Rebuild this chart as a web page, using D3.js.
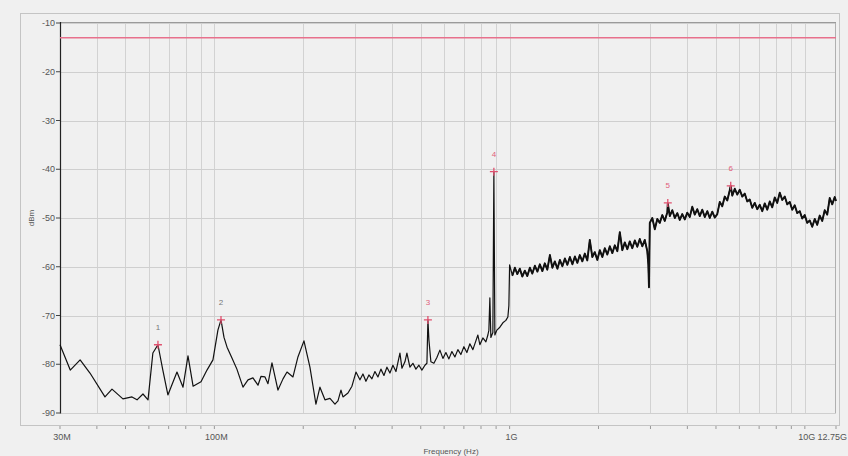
<!DOCTYPE html>
<html>
<head>
<meta charset="utf-8">
<script src="https://cdn.jsdelivr.net/npm/d3@7/dist/d3.min.js"></script>
<style>
	html, body { margin: 0; padding: 0; background: #f0f0f0; }
	svg { display: block; font-family: "Liberation Sans", "DejaVu Sans", sans-serif; }
</style>
</head>
<body>
<div id="chart"></div>
<script>
// frequency in MHz, level in dBm
const traceFreq = [
	30, 32.5, 35.1, 37.9, 42.6, 45.0, 49.0, 52.6, 54.7, 57.3, 59.6, 61.9, 64.4, 66.9, 69.6, 74.7, 78.3, 81.4, 84.7, 90.1, 94.4, 98.9, 102.8, 105.3,
	107.8, 110.4, 114.7, 119.2, 125.0, 130.0, 135.1, 140.5, 143.8, 148.4, 151.9, 156.7, 164.2, 170.8, 176.2, 184.6, 191.9, 201.1, 210.7, 220.8,
	227.8, 236.9, 246.3, 256.1, 262.2, 268.4, 272.6, 283.5, 292.4, 301.7, 311.2, 318.6, 326.1, 333.8, 341.7, 349.8, 358.1, 366.5, 375.3, 384.1,
	393.2, 402.5, 412.1, 425.1, 431.8, 442.0, 448.9, 459.5, 470.4, 481.5, 493.0, 504.6, 516.6, 524.7, 528.8, 532.9, 541.2, 554.1,
	567.1, 580.6, 594.4, 608.4, 622.8, 637.5, 652.6, 668.0, 683.8, 700.1, 716.6, 733.5, 750.9, 768.7, 780.7, 793.0, 811.8, 831.1, 844.1, 850.7,
	857.3, 864.0, 877.6, 884.5, 891.4, 905.4, 926.8, 948.8, 971.3, 986.5, 994.2, 1000,
	1022, 1042, 1062, 1083, 1104, 1126, 1148, 1171, 1194, 1218, 1242, 1266, 1291, 1316, 1342, 1369, 1396, 1423, 1452,
	1480, 1509, 1539, 1569, 1600, 1632, 1664, 1696, 1729, 1763, 1798, 1833, 1869, 1906, 1943, 1982,
	2021, 2061, 2101, 2143, 2185, 2228, 2272, 2317, 2362, 2408, 2456, 2504, 2553, 2603, 2655, 2707,
	2760, 2814, 2870, 2926, 2950, 2965, 2984, 3043, 3103, 3164, 3226, 3290, 3354, 3421, 3434,
	3488, 3557, 3627, 3698, 3770, 3844, 3920, 3997, 4076, 4156, 4238, 4322, 4407, 4494, 4582, 4673,
	4764, 4858, 4954, 5051, 5150, 5251, 5355, 5461, 5568, 5610, 5678, 5790, 5904, 6019, 6138, 6259, 6382,
	6507, 6635, 6766, 6899, 7035, 7174, 7315, 7459, 7605, 7755, 7908, 8064, 8222, 8384, 8549, 8718,
	8888, 9063, 9242, 9424, 9609, 9798, 9991, 10188, 10388, 10593, 10802, 11014, 11230, 11451, 11677, 11907,
	12141, 12380, 12624, 12750
];
const traceLevel = [
	-76.0, -81.2, -79.1, -81.8, -86.7, -85.1, -87.1, -86.7, -87.3, -86.1, -87.3, -77.7, -76.0, -81.2, -86.3, -81.6, -84.7, -78.3, -84.5, -83.6, -81.2, -79.1, -73.0, -70.9,
	-74.5, -76.5, -78.7, -81.0, -84.7, -83.2, -82.8, -84.3, -82.5, -82.6, -84.0, -79.7, -85.3, -83.0, -81.6, -82.6, -78.5, -75.2, -80.6, -88.2,
	-84.7, -87.3, -87.0, -88.2, -87.5, -85.3, -86.7, -85.9, -84.5, -81.6, -83.2, -82.0, -83.5, -82.2, -83.0, -81.5, -82.6, -81.0, -82.3, -80.6,
	-81.8, -80.2, -81.5, -77.7, -80.8, -79.5, -77.7, -80.6, -79.8, -81.0, -80.2, -81.2, -80.2, -79.8, -70.9, -75.0, -79.5, -79.8,
	-78.6, -77.1, -78.8, -77.6, -78.9, -77.4, -78.5, -77.0, -78.0, -76.4, -77.6, -75.8, -77.0, -75.2, -74.0, -76.0, -74.6, -75.4, -74.0, -73.0,
	-66.4, -74.5, -73.5, -40.5, -74.0, -73.0, -72.4, -71.5, -71.0, -70.3, -68.0, -59.6,
	-61.8, -60.2, -61.5, -60.4, -62.0, -60.8, -61.9, -60.2, -61.4, -59.8, -61.0, -59.5, -60.9, -59.3, -60.6, -57.6, -60.2, -58.9, -60.4,
	-58.6, -59.9, -58.3, -59.6, -58.0, -59.5, -57.9, -59.2, -57.6, -58.9, -57.3, -58.7, -54.5, -58.0, -57.0, -58.6,
	-56.6, -58.0, -56.2, -57.5, -55.8, -57.2, -55.6, -56.8, -52.9, -56.6, -55.0, -56.4, -54.8, -56.2, -54.6, -55.9,
	-54.3, -55.8, -54.5, -56.8, -59.5, -64.2, -51.0, -50.0, -52.3, -50.2, -51.0, -49.4, -50.6, -48.8, -47.0,
	-49.6, -48.4, -50.0, -49.0, -50.4, -49.2, -50.3, -48.9, -49.8, -47.7, -49.3, -48.2, -49.6, -48.3, -49.8, -48.6,
	-50.0, -48.7, -49.9, -49.2, -46.7, -47.6, -45.6, -46.4, -44.3, -43.4, -45.4, -44.0, -45.2, -44.2, -45.6, -45.0, -46.6,
	-46.2, -47.9, -46.9, -48.2, -47.3, -48.6, -47.0, -48.3, -46.6, -47.8, -45.8, -46.9, -44.8, -46.3, -45.6, -47.2,
	-46.7, -48.3, -47.4, -49.0, -48.6, -50.1, -49.4, -51.0, -50.5, -51.8, -50.2, -51.4, -49.5, -50.6, -48.4, -49.3,
	-45.9, -47.2, -45.7, -46.5
];

const markerIds = ["1", "2", "3", "4", "5", "6"];
const markerFreq = [64.4, 105.3, 528.8, 884.5, 3434, 5610];
const markerLevel = [-76.0, -70.9, -70.9, -40.5, -46.9, -43.4];

const limitLevel = -13;

const yTicks = [-90, -80, -70, -60, -50, -40, -30, -20, -10];
const xLabelFreq = [30, 100, 1000, 10000, 12750];
const xLabelText = ["30M", "100M", "1G", "10G", "12.75G"];
const xMinorFreq = [
	40, 50, 60, 70, 80, 90,
	200, 300, 400, 500, 600, 700, 800, 900,
	2000, 3000, 4000, 5000, 6000, 7000, 8000, 9000
];

const width = 848;
const height = 456;
const margin = { left: 60, right: 12, top: 23, bottom: 43 };

const x = d3.scaleLog()
	.domain([30, 12750])
	.range([margin.left, width - margin.right]);

const y = d3.scaleLinear()
	.domain([-90, -10])
	.range([height - margin.bottom, margin.top]);

const svg = d3.select("#chart")
	.append("svg")
	.attr("width", width)
	.attr("height", height);

svg.append("rect")
	.attr("width", width)
	.attr("height", height)
	.attr("fill", "#f0f0f0");

// outer panel frame
svg.append("rect")
	.attr("x", 20.5)
	.attr("y", 13.5)
	.attr("width", 819)
	.attr("height", 412)
	.attr("fill", "none")
	.attr("stroke", "#c4c4c4");

// grid
svg.append("g")
	.selectAll("line")
	.data(xMinorFreq.concat([100, 1000, 10000]))
	.join("line")
	.attr("x1", (d) => Math.round(x(d)) + 0.5)
	.attr("x2", (d) => Math.round(x(d)) + 0.5)
	.attr("y1", y(-10))
	.attr("y2", y(-90))
	.attr("stroke", "#d2d2d2")
	.attr("stroke-width", 1);

svg.append("g")
	.selectAll("line")
	.data(yTicks)
	.join("line")
	.attr("x1", x(30))
	.attr("x2", x(12750))
	.attr("y1", (d) => Math.round(y(d)) + 0.5)
	.attr("y2", (d) => Math.round(y(d)) + 0.5)
	.attr("stroke", "#cfcfcf")
	.attr("stroke-width", 1.2);

// plot border
svg.append("line")
	.attr("x1", x(30)).attr("x2", x(12750))
	.attr("y1", y(-10) - 0.5).attr("y2", y(-10) - 0.5)
	.attr("stroke", "#9a9a9a");
svg.append("line")
	.attr("x1", x(12750) - 0.5).attr("x2", x(12750) - 0.5)
	.attr("y1", y(-10)).attr("y2", y(-90))
	.attr("stroke", "#b0b0b0");
svg.append("line")
	.attr("x1", x(30) + 0.5).attr("x2", x(30) + 0.5)
	.attr("y1", y(-10) - 1).attr("y2", y(-90) + 0.5)
	.attr("stroke", "#222")
	.attr("stroke-width", 1.2);

// y axis ticks + labels
const yAxis = svg.append("g");
yAxis.selectAll("line")
	.data(yTicks)
	.join("line")
	.attr("x1", x(30) - 4)
	.attr("x2", x(30))
	.attr("y1", (d) => y(d))
	.attr("y2", (d) => y(d))
	.attr("stroke", "#444");
yAxis.selectAll("text")
	.data(yTicks)
	.join("text")
	.attr("x", x(30) - 5)
	.attr("y", (d) => y(d))
	.attr("dy", "0.35em")
	.attr("text-anchor", "end")
	.attr("font-size", "9px")
	.attr("fill", "#555")
	.text((d) => d);

svg.append("text")
	.attr("transform", "translate(31," + y(-50) + ") rotate(-90)")
	.attr("text-anchor", "middle")
	.attr("dy", "0.35em")
	.attr("font-size", "8px")
	.attr("fill", "#555")
	.text("dBm");

// x axis ticks + labels (below the panel)
const xAxis = svg.append("g");
xAxis.selectAll("line")
	.data(xMinorFreq.concat(xLabelFreq))
	.join("line")
	.attr("x1", (d) => x(d))
	.attr("x2", (d) => x(d))
	.attr("y1", 426)
	.attr("y2", 429)
	.attr("stroke", "#999");
xAxis.selectAll("text")
	.data(xLabelFreq)
	.join("text")
	.attr("x", (d, i) => (i === xLabelFreq.length - 1 ? width - 1 : x(d) + 2))
	.attr("y", 437)
	.attr("dy", "0.35em")
	.attr("text-anchor", (d, i) => (i === xLabelFreq.length - 1 ? "end" : "middle"))
	.attr("font-size", "9px")
	.attr("fill", "#555")
	.text((d, i) => xLabelText[i]);

svg.append("text")
	.attr("x", 451)
	.attr("y", 451)
	.attr("dy", "0.35em")
	.attr("text-anchor", "middle")
	.attr("font-size", "8px")
	.attr("fill", "#555")
	.text("Frequency (Hz)");

// limit line
svg.append("line")
	.attr("x1", x(30))
	.attr("x2", x(12750))
	.attr("y1", y(limitLevel))
	.attr("y2", y(limitLevel))
	.attr("stroke", "#e8708c")
	.attr("stroke-width", 1.5);

// trace
const trace = traceFreq.map((f, i) => [f, traceLevel[i]]);
const line = d3.line()
	.x((d) => x(d[0]))
	.y((d) => y(d[1]));

svg.append("path")
	.datum(trace)
	.attr("fill", "none")
	.attr("stroke", "#111")
	.attr("stroke-width", 1.2)
	.attr("stroke-linejoin", "round")
	.attr("d", line);

// noisier part above 1G drawn heavier, like the dense sweep in the original
svg.append("path")
	.datum(trace.filter((d) => d[0] > 1010))
	.attr("fill", "none")
	.attr("stroke", "#111")
	.attr("stroke-width", 1.9)
	.attr("stroke-linejoin", "round")
	.attr("d", line);

// markers
const markers = markerIds.map((id, i) => ({ id: id, f: markerFreq[i], v: markerLevel[i] }));
const mk = svg.append("g")
	.selectAll("g")
	.data(markers)
	.join("g")
	.attr("transform", (d) => "translate(" + x(d.f) + "," + y(d.v) + ")");

mk.append("path")
	.attr("d", "M-4,0H4M0,-4V4")
	.attr("stroke", "#e0506e")
	.attr("stroke-width", 1.3);

mk.append("text")
	.attr("y", -18)
	.attr("dy", "0.35em")
	.attr("text-anchor", "middle")
	.attr("font-size", "8px")
	.attr("fill", (d) => (d.id === "1" || d.id === "2" ? "#777" : "#e0607a"))
	.text((d) => d.id);
</script>
</body>
</html>
